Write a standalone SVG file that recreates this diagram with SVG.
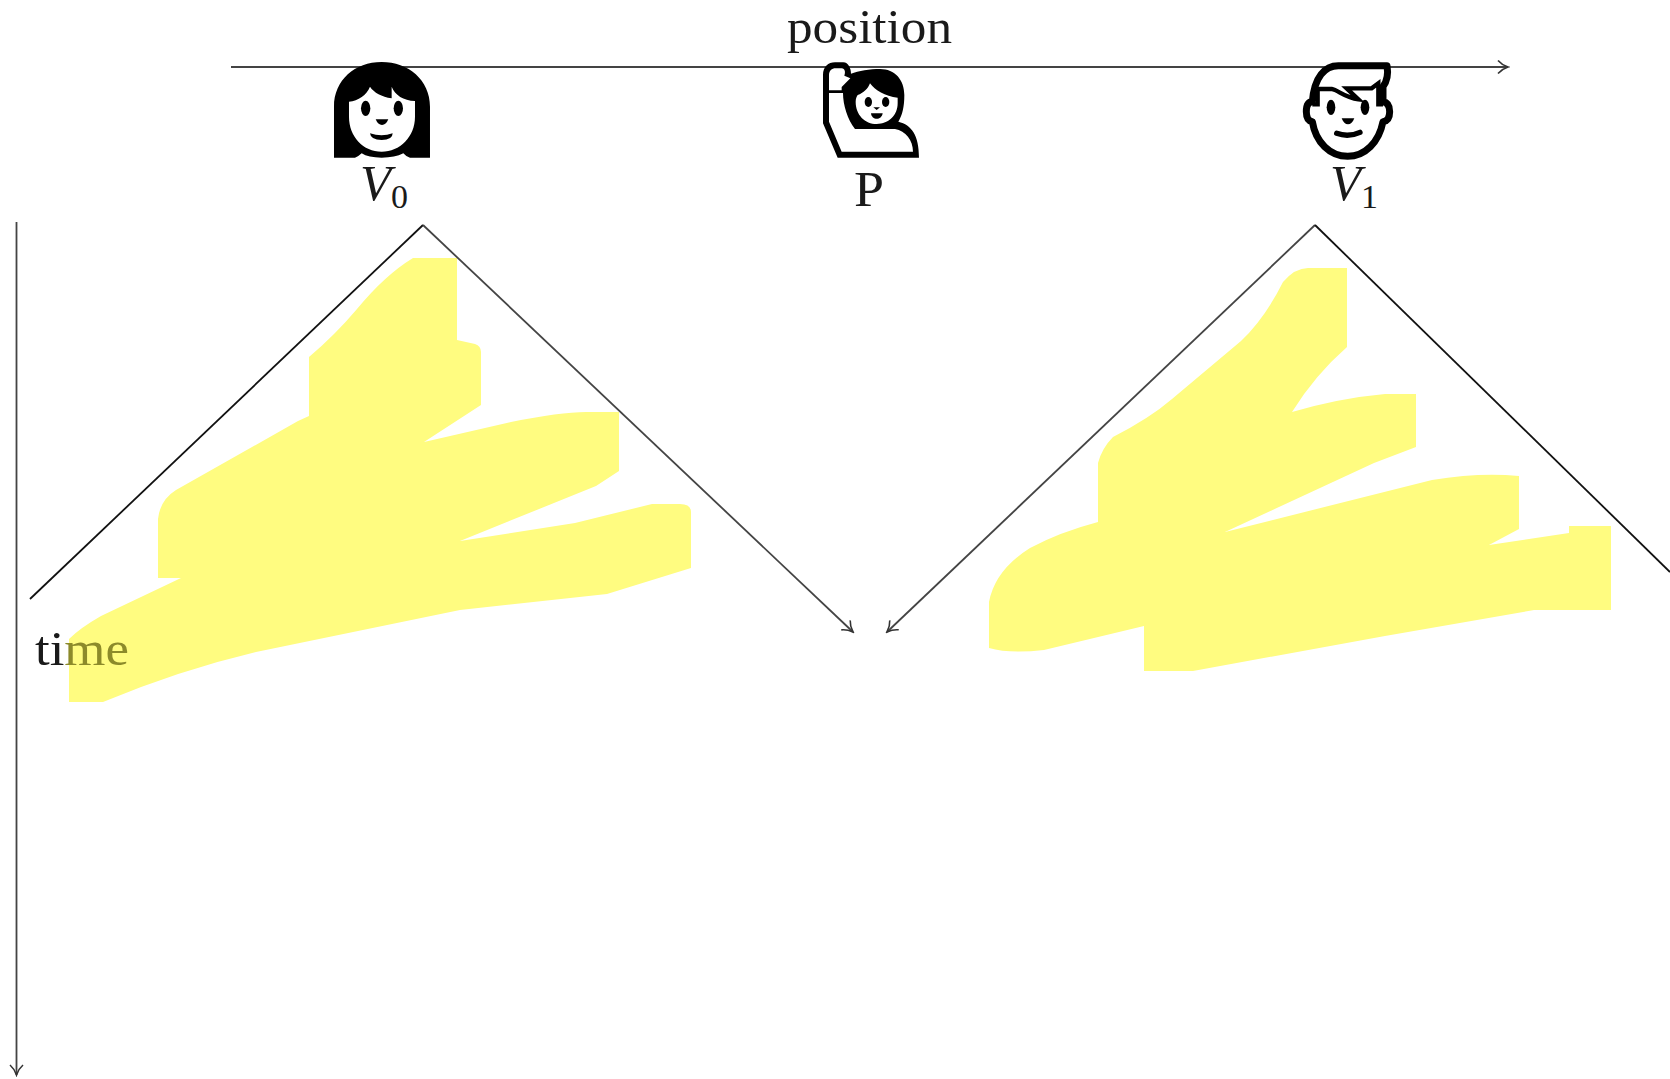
<svg xmlns="http://www.w3.org/2000/svg" width="1670" height="1079" viewBox="0 0 1670 1079">
<style>
.y{fill:#fffc80}
.ax{fill:none;stroke:#444;stroke-width:1.8}
.di{fill:none;stroke:#111;stroke-width:1.8}
.t{font-family:"Liberation Serif",serif;fill:#1a1a1a}
.k{fill:#000}.w{fill:#fff}
</style>
<defs><marker id="a" viewBox="-12 -8 14 16" refX="0" refY="0" markerWidth="14" markerHeight="16" markerUnits="userSpaceOnUse" orient="auto"><path d="M-10 -6.500C-7 -3 -3 -1 0 0C-3 1 -7 3 -10 6.500" fill="none" stroke="#333" stroke-width="1.600"/></marker></defs>
<rect width="1670" height="1079" fill="#fff"/>
<g id="highlight-left"><path class="y" d="M413 258H457V340L475 344Q481 346 481 352V405L424 442L511 422Q560 412 586 412H619V471L596 486L460 541L575 523L652 504H680Q691 504 691 512V568L607 594L460 610L256 652Q180 670 103 702H69V639Q80 628 101 616L181 578H158V519Q160 500 176 490L298 421L309 416V357Q335 335 357 309Q385 275 413 258Z"/></g>
<g id="highlight-right"><path class="y" d="M1308 268H1347V347Q1315 375 1292 412Q1340 398 1385 394H1416V447L1374 463L1225 532L1432 480Q1480 472 1519 476V529L1489 545L1569 533V526H1611V610H1534L1385 636L1193 671H1144V626L1044 650Q1010 654 989 648V602Q995 570 1030 548Q1060 532 1098 522V463Q1102 448 1113 437Q1150 418 1172 399L1241 341Q1265 318 1283 282Q1295 268 1308 268Z"/></g>
<g id="connectors">
<path class="ax" d="M231 67H1508" marker-end="url(#a)"/>
<path class="ax" d="M16.500 222V1075" marker-end="url(#a)"/>
<path class="di" d="M30 599L423 225"/>
<path class="ax" d="M423 225L853 632" marker-end="url(#a)"/>
<path class="ax" d="M1315 225L887 632" marker-end="url(#a)"/>
<path class="di" d="M1315 225L1670 572"/>
</g>
<g id="position-label"><text class="t" x="787" y="43" font-size="48" textLength="165" lengthAdjust="spacingAndGlyphs">position</text></g>
<g id="time-label"><text class="t" x="35" y="665" font-size="48" textLength="94" lengthAdjust="spacingAndGlyphs">ti<tspan fill="#8c8a2a">me</tspan></text></g>
<g id="v0" transform="translate(300 40) scale(.3333)">
<path class="k" d="M102 353V200C102 120 165 66 245 66C325 66 390 120 390 200V353H330Q318 350 310 340Q285 353 245 353Q205 353 185 340Q175 350 165 353Z"/>
<path class="w" d="M147 185V230C147 290 190 335 245 335C300 335 345 290 345 230V183C310 182 285 165 275 140V175C245 170 222 158 210 140C200 165 175 182 147 185Z"/>
<ellipse class="k" cx="197" cy="205" rx="14" ry="23"/><ellipse class="k" cx="295" cy="205" rx="14" ry="23"/>
<path class="k" d="M227 238H265Q258 255 246 255Q234 255 227 238Z"/>
<path class="k" d="M210 280Q245 292 278 280Q278 300 245 300Q212 300 210 280Z"/>
</g>
<g id="p" transform="translate(815 55) scale(.3333)">
<path class="k" d="M24 60C24 35 40 22 60 22H85C100 22 108 40 108 56C130 48 165 42 195 42C240 42 268 75 268 120C268 155 262 180 250 200C290 210 312 240 312 308H68L24 205Z"/>
<path class="w" d="M42 106V60C42 48 50 40 62 40H80C90 40 92 52 88 62L106 70L80 96V106Z"/>
<path class="w" d="M42 114H84C84 150 98 195 120 222H240C272 228 294 255 294 290H80L42 200Z"/>
<path class="w" d="M122 140C122 130 125 125 128 120C145 115 160 100 165 85C180 105 210 125 248 128V145C248 180 222 207 185 207C150 207 122 180 122 140Z"/>
<ellipse class="k" cx="160" cy="141" rx="11" ry="15"/><ellipse class="k" cx="212" cy="141" rx="11" ry="15"/>
<path class="k" d="M175 157H195L185 165Z"/>
<path class="k" d="M168 175H203C200 197 170 197 168 175Z"/>
</g>
<g id="v1" transform="translate(1295 55) scale(.3333)">
<path d="M276 32H130C90 32 58 65 52 140C38 140 34 155 34 170C34 188 40 198 52 200C62 262 105 304 158 304C210 304 252 262 264 200C278 198 284 188 284 170C284 152 278 142 264 140V95C275 80 280 55 276 32Z" fill="#fff" stroke="#000" stroke-width="21" stroke-linejoin="round"/>
<path d="M52 148H68V102H110C130 106 150 128 190 133L155 100H230L250 85V148H264" fill="none" stroke="#000" stroke-width="13"/>
<ellipse class="k" cx="108" cy="157" rx="13" ry="23"/><ellipse class="k" cx="210" cy="157" rx="13" ry="23"/>
<path class="k" d="M140 190H178Q171 208 159 208Q147 208 140 190Z"/>
<path d="M125 235Q160 248 195 232" fill="none" stroke="#000" stroke-width="16" stroke-linecap="round"/>
</g>
<g id="v0-label"><text class="t" x="360" y="200" font-size="50" font-style="italic" textLength="31" lengthAdjust="spacingAndGlyphs">V</text><text class="t" x="391" y="208" font-size="34">0</text></g>
<g id="p-label"><text class="t" x="854" y="206" font-size="50" textLength="30" lengthAdjust="spacingAndGlyphs">P</text></g>
<g id="v1-label"><text class="t" x="1330" y="200" font-size="50" font-style="italic" textLength="31" lengthAdjust="spacingAndGlyphs">V</text><text class="t" x="1361" y="208" font-size="34">1</text></g>
</svg>
